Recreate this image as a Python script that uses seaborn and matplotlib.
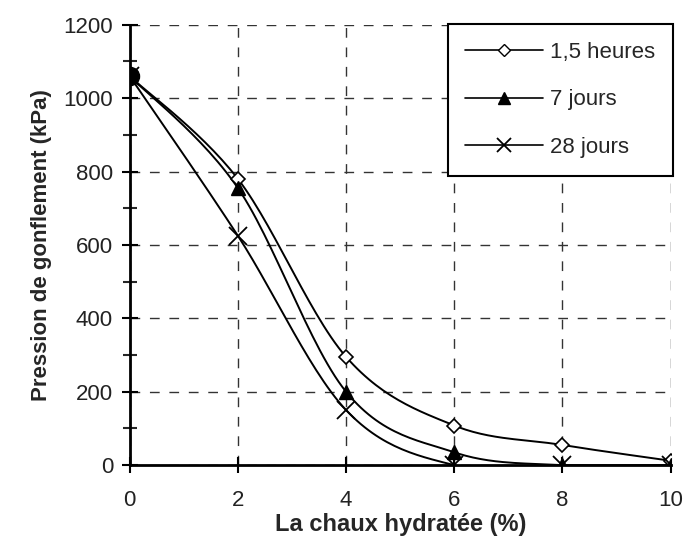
import numpy as np
import pandas as pd
import matplotlib
matplotlib.use("Agg")
import matplotlib.pyplot as plt
import seaborn as sns
from matplotlib.lines import Line2D
from matplotlib.ticker import MultipleLocator

# data
chaux = [0, 2, 4, 6, 8, 10]   # La chaux hydratée (%)
h1_5 = [1060, 780, 295, 108, 55, 12]
j7 = [1060, 755, 200, 35, 0, 0]
j28 = [1060, 625, 150, 0, 0, 0]
series_names = ["1,5 heures", "7 jours", "28 jours"]
markers = ["D", "^", "x"]


# excel style smoothed line (bezier through the points)
def smooth(x, y, n=30):
    x = np.asarray(x, float)
    y = np.asarray(y, float)
    px = np.concatenate([[x[0]], x, [x[-1]]])
    py = np.concatenate([[y[0]], y, [y[-1]]])
    xs, ys = [], []
    t = np.linspace(0, 1, n)
    for i in range(1, len(px) - 2):
        p0 = np.array([px[i], py[i]])
        p3 = np.array([px[i + 1], py[i + 1]])
        c1 = p0 + (np.array([px[i + 1], py[i + 1]]) - np.array([px[i - 1], py[i - 1]])) / 6
        c2 = p3 - (np.array([px[i + 2], py[i + 2]]) - np.array([px[i], py[i]])) / 6
        b = ((1 - t) ** 3)[:, None] * p0 + (3 * (1 - t) ** 2 * t)[:, None] * c1 \
            + (3 * (1 - t) * t ** 2)[:, None] * c2 + (t ** 3)[:, None] * p3
        xs.extend(b[:, 0])
        ys.extend(b[:, 1])
    return np.array(xs), np.array(ys)


sns.set_style("white")
plt.rcParams["font.family"] = ["Liberation Sans", "DejaVu Sans"]

fig = plt.figure(figsize=(6.9, 5.39), dpi=100)
ax = fig.add_axes([0.188, 0.137, 0.784, 0.817])

rows = []
for name, vals in zip(series_names, [h1_5, j7, j28]):
    sx, sy = smooth(chaux, vals)
    rows.append(pd.DataFrame({"x": sx, "y": sy, "serie": name}))
curves = pd.concat(rows, ignore_index=True)

sns.lineplot(data=curves, x="x", y="y", hue="serie", sort=False, estimator=None,
             palette=["black"] * 3, linewidth=1.4, legend=False, ax=ax)

for name, vals, m in zip(series_names, [h1_5, j7, j28], markers):
    if m == "D":
        ax.plot(chaux, vals, ls="none", marker=m, ms=7, mfc="white", mec="black", mew=1.2)
    elif m == "^":
        ax.plot(chaux, vals, ls="none", marker=m, ms=10, color="black")
    else:
        ax.plot(chaux, vals, ls="none", marker=m, ms=13, mew=1.3, color="black")
# the three markers pile up at 0 % and show as a black dot
ax.plot(chaux[0], j7[0], ls="none", marker="o", ms=13, color="black", zorder=5)

ax.set_xlim(0, 10)
ax.set_ylim(0, 1200)
ax.xaxis.set_major_locator(MultipleLocator(2))
ax.yaxis.set_major_locator(MultipleLocator(200))
ax.yaxis.set_minor_locator(MultipleLocator(100))
ax.grid(True, which="major", color="#333333", linestyle=(0, (7, 7)), linewidth=1)
ax.set_axisbelow(True)
for s in ["top", "right"]:
    ax.spines[s].set_visible(False)
for s in ["left", "bottom"]:
    ax.spines[s].set_color("black")
    ax.spines[s].set_linewidth(2)
ax.tick_params(axis="both", which="major", direction="inout", length=12, width=1.5,
               labelsize=16, colors="black", labelcolor="#222222", left=True, bottom=True)
ax.tick_params(axis="y", which="minor", direction="inout", length=10, width=1.5, left=True)
ax.tick_params(axis="x", pad=12)
ax.tick_params(axis="y", pad=6)

ax.set_xlabel("La chaux hydratée (%)", fontsize=17, fontweight="bold", labelpad=1)
ax.set_ylabel("Pression de gonflement (kPa)", fontsize=16, fontweight="bold", labelpad=8)

handles = [
    Line2D([], [], color="black", marker="D", ms=6, mfc="white", mec="black", lw=1.2),
    Line2D([], [], color="black", marker="^", ms=9, lw=1.2),
    Line2D([], [], color="black", marker="x", ms=10, mew=1.3, lw=1.2),
]
leg = ax.legend(handles, series_names, loc="upper right", bbox_to_anchor=(1.012, 1.012),
                fontsize=16, frameon=True, fancybox=False, framealpha=1,
                edgecolor="black", borderpad=0.8, labelspacing=1.2, handlelength=3.5,
                handletextpad=0.3, borderaxespad=0.2)
leg.get_frame().set_linewidth(1.5)

fig.savefig("out.png", dpi=100)
